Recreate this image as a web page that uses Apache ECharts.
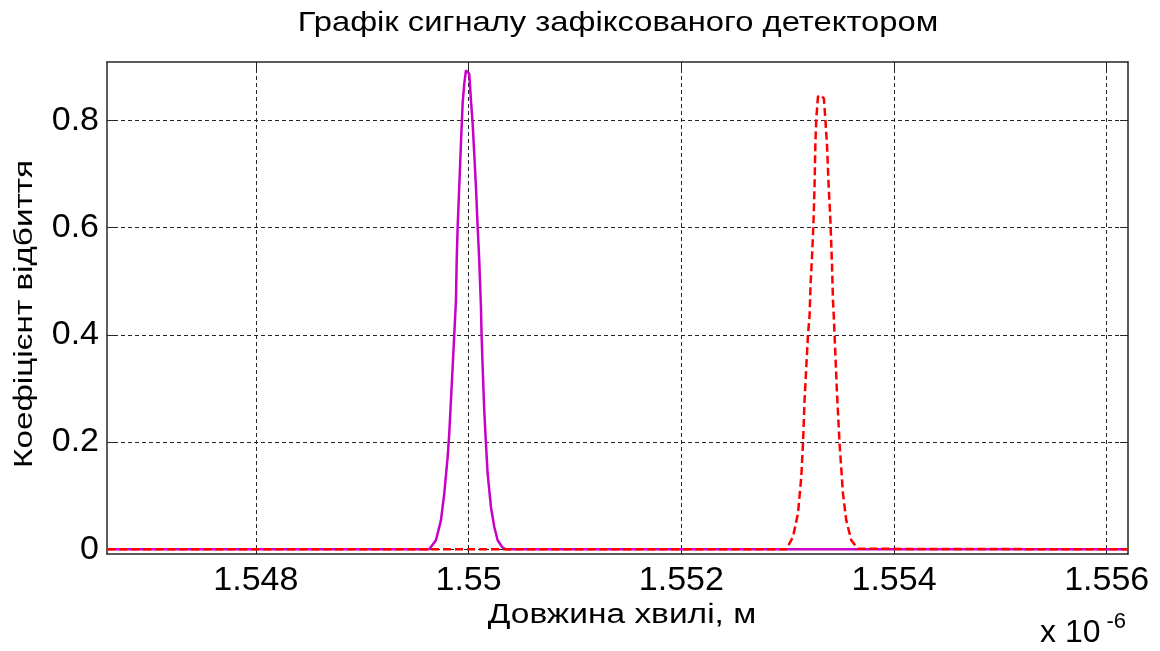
<!DOCTYPE html>
<html>
<head>
<meta charset="utf-8">
<script src="https://cdn.jsdelivr.net/npm/echarts@6/dist/echarts.min.js"></script>
<style>
html,body{margin:0;padding:0;background:#fff;}
#chart{width:1160px;height:651px;}
</style>
</head>
<body>
<div id="chart"></div>
<script>
// Wavelength in units of 1e-6 m
var titleText = 'Графік сигналу зафіксованого детектором';
var xName = 'Довжина хвилі, м';
var yName = 'Коефіцієнт відбиття';
var xTicks = [1.548, 1.55, 1.552, 1.554, 1.556];
var yTicks = [0, 0.2, 0.4, 0.6, 0.8];

var magentaX = [1.5466, 1.549630, 1.549693, 1.549740, 1.549771, 1.549803, 1.549818, 1.549834, 1.549850, 1.549865, 1.549881, 1.549888, 1.549897, 1.549912, 1.549928, 1.549944, 1.549959, 1.549975, 1.549991, 1.550006, 1.550022, 1.550038, 1.550053, 1.550069, 1.550085, 1.550100, 1.550116, 1.550122, 1.550132, 1.550147, 1.550163, 1.550179, 1.550210, 1.550241, 1.550273, 1.550320, 1.550351, 1.5562];
var magentaY = [0, 0, 0.017, 0.054, 0.104, 0.172, 0.216, 0.278, 0.34, 0.40, 0.464, 0.539, 0.601, 0.676, 0.757, 0.832, 0.868, 0.893, 0.896, 0.887, 0.837, 0.794, 0.738, 0.676, 0.601, 0.539, 0.452, 0.40, 0.34, 0.259, 0.197, 0.141, 0.079, 0.042, 0.017, 0.003, 0, 0];

var redX = [1.5466, 1.552987, 1.553050, 1.553097, 1.553128, 1.553144, 1.553159, 1.553175, 1.553191, 1.553206, 1.553215, 1.553231, 1.553244, 1.553253, 1.553260, 1.553269, 1.553285, 1.553316, 1.553341, 1.553354, 1.553370, 1.553385, 1.553401, 1.553417, 1.553426, 1.553432, 1.553441, 1.553464, 1.553488, 1.553520, 1.553551, 1.553598, 1.553661, 1.5562];
var redY = [0, 0, 0.023, 0.067, 0.135, 0.197, 0.278, 0.34, 0.40, 0.436, 0.492, 0.554, 0.617, 0.679, 0.753, 0.803, 0.844, 0.847, 0.840, 0.803, 0.753, 0.679, 0.617, 0.530, 0.464, 0.442, 0.40, 0.29, 0.197, 0.104, 0.054, 0.017, 0.001, 0];

function pairs(xs, ys){ var out=[]; for(var i=0;i<xs.length;i++) out.push([xs[i], ys[i]]); return out; }

var FONT = 'Liberation Sans, Arial, sans-serif';
var chart = echarts.init(document.getElementById('chart'), null, {renderer:'canvas'});
var gridLine = {show:true, lineStyle:{color:'#262626', width:1, type:[4,3]}};
var axisLine = {show:true, onZero:false, lineStyle:{color:'#262626', width:1.5}};

chart.setOption({
  animation:false,
  backgroundColor:'#fff',
  grid:{left:107, right:32, top:62, bottom:97},
  xAxis:[{
    type:'value', min:1.5466, max:1.5562, position:'bottom',
    axisLine:axisLine,
    axisTick:{show:true, inside:true, length:8, customValues:xTicks, lineStyle:{color:'#262626'}},
    axisLabel:{customValues:xTicks, fontFamily:FONT, fontSize:34, color:'#000', margin:10},
    splitLine:gridLine
  },{
    type:'value', min:1.5466, max:1.5562, position:'top',
    axisLine:axisLine,
    axisTick:{show:true, inside:true, length:8, customValues:xTicks, lineStyle:{color:'#262626'}},
    axisLabel:{show:false},
    splitLine:{show:false}
  }],
  yAxis:[{
    type:'value', min:-0.0087, max:0.9087, position:'left',
    axisLine:axisLine,
    axisTick:{show:true, inside:true, length:8, customValues:yTicks, lineStyle:{color:'#262626'}},
    axisLabel:{customValues:yTicks, fontFamily:FONT, fontSize:34, color:'#000', margin:8},
    splitLine:gridLine
  },{
    type:'value', min:-0.0087, max:0.9087, position:'right',
    axisLine:axisLine,
    axisTick:{show:true, inside:true, length:8, customValues:yTicks, lineStyle:{color:'#262626'}},
    axisLabel:{show:false},
    splitLine:{show:false}
  }],
  graphic:[{
    type:'text', x:618, y:23, scaleX:1.17,
    style:{text:titleText, fontFamily:FONT, fontSize:28, fill:'#000', align:'center', verticalAlign:'middle'}
  },{
    type:'text', x:622, y:616, scaleX:1.24,
    style:{text:xName, fontFamily:FONT, fontSize:27, fill:'#000', align:'center', verticalAlign:'middle'}
  },{
    type:'text', x:25, y:314, rotation:Math.PI/2, scaleX:1.33,
    style:{text:yName, fontFamily:FONT, fontSize:25, fill:'#000', align:'center', verticalAlign:'middle'}
  },{
    type:'text', left:1040, top:603,
    style:{
      text:'{a|x 10}{b|-6}',
      rich:{
        a:{fontFamily:FONT, fontSize:32, fill:'#000', verticalAlign:'bottom', lineHeight:46},
        b:{fontFamily:FONT, fontSize:22, fill:'#000', verticalAlign:'top', lineHeight:46, padding:[8,0,14,6]}
      }
    }
  }],
  series:[{
    type:'line', xAxisIndex:0, yAxisIndex:0, data:pairs(magentaX, magentaY),
    showSymbol:false, smooth:false,
    lineStyle:{color:'#c800c8', width:2.5}
  },{
    type:'line', xAxisIndex:0, yAxisIndex:0, data:pairs(redX, redY),
    showSymbol:false, smooth:false,
    lineStyle:{color:'#ff0000', width:2.5, type:[8,4]}
  }]
});
</script>
</body>
</html>
